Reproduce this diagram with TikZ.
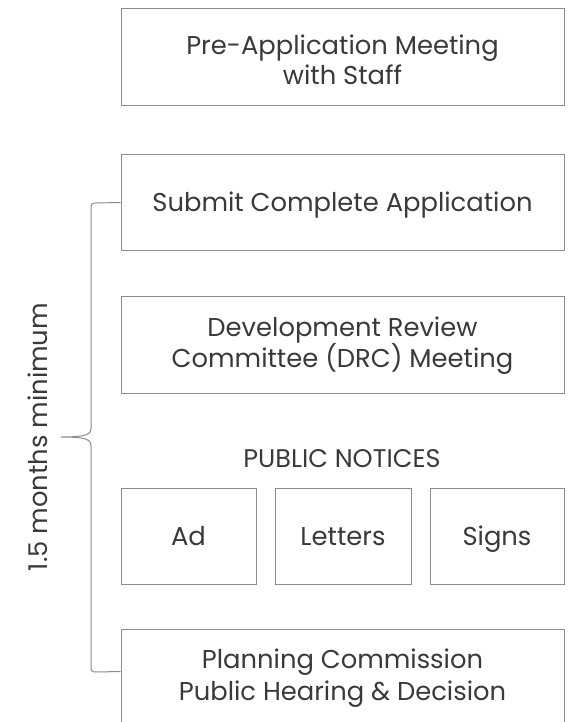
\documentclass[tikz,border=0pt]{standalone}
\usepackage{fontspec}
\setmainfont{Poppins}
\definecolor{edge}{HTML}{8C8C8C}
\definecolor{ink}{HTML}{3A3A3A}
\tikzset{
  stepbox/.style={draw=edge, line width=1pt, fill=white, text=ink, align=center,
    inner sep=0pt, font=\fontsize{25.8}{30}\selectfont},
  smallbox/.style={stepbox, minimum height=96pt, text height=18pt, text depth=0pt},
  brace/.style={draw=edge, line width=1pt},
  lbl/.style={text=ink, align=center, font=\fontsize{25.8}{32}\selectfont}
}
\begin{document}
\begin{tikzpicture}[x=1pt,y=-1pt]
\useasboundingbox (0,0) rectangle (569,722);
\clip (0,0) rectangle (569,722);
\node[stepbox, minimum width=443pt, minimum height=97pt] (pre) at (342.5,57.5) {};
\node[lbl, font=\fontsize{25.8}{30}\selectfont] (pret) at (342.5,60) {Pre-Application Meeting\\with Staff};
\node[stepbox, minimum width=443pt, minimum height=95pt, text height=18pt, text depth=0pt] (sub) at (342.5,202.5) {Submit Complete Application};
\node[stepbox, minimum width=443pt, minimum height=97pt] (drc) at (342.5,344.5) {};
\node[lbl, font=\fontsize{25.8}{31}\selectfont] (drct) at (342.5,346) {Development Review\\Committee (DRC) Meeting};
\node[lbl, font=\fontsize{25.5}{30}\selectfont] (pn) at (342,459) {PUBLIC NOTICES};
\node[smallbox, minimum width=135pt] (ad) at (188.5,536) {Ad};
\node[smallbox, minimum width=136pt] (let) at (343,536) {Letters};
\node[smallbox, minimum width=134pt] (sig) at (497,536) {Signs};
\node[stepbox, minimum width=443pt, minimum height=110pt] (pc) at (342.5,684) {};
\node[lbl] (pct) at (342.5,678) {Planning Commission\\Public Hearing \& Decision};
\coordinate (pcend) at ([yshift=-43pt]pc.north west);
\coordinate (tip) at (61,437);
\draw[brace] (sub.west) -- (96,203) .. controls (92,203) and (91,204) .. (91,208)
  -- (91,428) .. controls (91,434) and (88,437) .. (tip)
  .. controls (88,437) and (91,440) .. (91,446)
  -- (91,667) .. controls (91,671) and (92,672) .. (96,672) -- (pcend);
\node[lbl, rotate=90] (dur) at (38,437) {1.5 months minimum};
\end{tikzpicture}
\end{document}
